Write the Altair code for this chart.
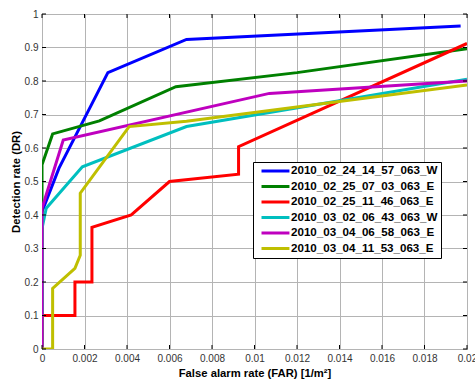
import altair as alt
import pandas as pd

series_names = [
    "2010_02_24_14_57_063_W",
    "2010_02_25_07_03_063_E",
    "2010_02_25_11_46_063_E",
    "2010_03_02_06_43_063_W",
    "2010_03_04_06_58_063_E",
    "2010_03_04_11_53_063_E",
]
series_colors = ["#0000FF", "#008000", "#FF0000", "#00BFBF", "#BF00BF", "#BFBF00"]

blue_x = [0, 0, 0.0008, 0.0031, 0.0068, 0.0197]
blue_y = [0, 0.41, 0.54, 0.825, 0.924, 0.964]
green_x = [0, 0, 0.0005, 0.0027, 0.0063, 0.012, 0.02]
green_y = [0, 0.55, 0.642, 0.681, 0.783, 0.825, 0.896]
red_x = [0, 0, 0.00155, 0.00155, 0.00235, 0.00235, 0.0042, 0.006, 0.00925, 0.00925, 0.02]
red_y = [0, 0.1, 0.1, 0.2, 0.2, 0.363, 0.40, 0.50, 0.522, 0.604, 0.912]
cyan_x = [0, 0, 0.0002, 0.0019, 0.0068, 0.02]
cyan_y = [0, 0.36, 0.42, 0.544, 0.664, 0.805]
magenta_x = [0, 0, 0.001, 0.0107, 0.02]
magenta_y = [0, 0.42, 0.624, 0.763, 0.80]
yellow_x = [0, 0.0005, 0.0005, 0.00155, 0.0018, 0.0018, 0.0041, 0.0068, 0.02]
yellow_y = [0, 0, 0.181, 0.241, 0.28, 0.465, 0.664, 0.68, 0.788]

x_ticks = [0, 0.002, 0.004, 0.006, 0.008, 0.01, 0.012, 0.014, 0.016, 0.018, 0.02]
y_ticks = [0, 0.1, 0.2, 0.3, 0.4, 0.5, 0.6, 0.7, 0.8, 0.9, 1.0]

all_x = [blue_x, green_x, red_x, cyan_x, magenta_x, yellow_x]
all_y = [blue_y, green_y, red_y, cyan_y, magenta_y, yellow_y]

rows = []
for s, (name, xs, ys) in enumerate(zip(series_names, all_x, all_y)):
    for i, (xv, yv) in enumerate(zip(xs, ys)):
        rows.append({"series": name, "s": s, "i": i, "x": xv, "y": yv})
df = pd.DataFrame(rows)
xt = pd.DataFrame({"x": x_ticks})
yt = pd.DataFrame({"y": y_ticks})

FONT = "Liberation Sans"
W, H, TL = 425, 335, 4

xscale = alt.Scale(domain=[0, 0.02], nice=False, zero=False)
yscale = alt.Scale(domain=[0, 1], nice=False)
xaxis = alt.Axis(values=x_ticks, format="~g", title="False alarm rate (FAR) [1/m²]")
yaxis = alt.Axis(values=y_ticks, format="~g", title="Detection rate (DR)")

lines = (
    alt.Chart(df)
    .mark_line(strokeWidth=3, clip=True)
    .encode(
        x=alt.X("x:Q", scale=xscale, axis=xaxis),
        y=alt.Y("y:Q", scale=yscale, axis=yaxis),
        color=alt.Color(
            "series:N",
            scale=alt.Scale(domain=series_names, range=series_colors),
            legend=alt.Legend(
                title=None,
                orient="none",
                legendX=211,
                legendY=148,
                symbolType="M-0.11,0H6.1",
                symbolSize=81,
                symbolStrokeWidth=3,
                labelOffset=23,
                labelFont=FONT,
                labelFontSize=11.6,
                labelFontWeight="bold",
                labelColor="black",
                rowPadding=3.5,
                padding=3,
                fillColor="white",
                strokeColor="black",
                labelLimit=400,
            ),
        ),
        order="i:Q",
        detail="s:N",
    )
)

tick_top = alt.Chart(xt).mark_rule(color="black", strokeWidth=1).encode(
    x=alt.X("x:Q", scale=xscale, axis=xaxis), y=alt.value(0), y2=alt.value(TL)
)
tick_bottom = alt.Chart(xt).mark_rule(color="black", strokeWidth=1).encode(
    x=alt.X("x:Q", scale=xscale, axis=xaxis), y=alt.value(H - TL), y2=alt.value(H)
)
tick_left = alt.Chart(yt).mark_rule(color="black", strokeWidth=1).encode(
    y=alt.Y("y:Q", scale=yscale, axis=yaxis), x=alt.value(0), x2=alt.value(TL)
)
tick_right = alt.Chart(yt).mark_rule(color="black", strokeWidth=1).encode(
    y=alt.Y("y:Q", scale=yscale, axis=yaxis), x=alt.value(W - TL), x2=alt.value(W)
)

chart = (
    alt.layer(lines, tick_top, tick_bottom, tick_left, tick_right)
    .properties(
        width=W,
        height=H,
        autosize=alt.AutoSizeParams(type="none"),
        padding={"left": 42, "top": 14, "right": 8, "bottom": 32},
    )
    .configure_view(stroke="black", strokeWidth=1)
    .configure_axis(
        grid=True,
        gridColor="#b4b4b4",
        gridWidth=1,
        domain=False,
        ticks=False,
        labelFlush=False,
        labelFont=FONT,
        labelFontSize=10,
        labelColor="#333333",
        titleFont=FONT,
        titleFontSize=11.25,
        titleFontWeight="bold",
        titleColor="black",
        labelPadding=4,
    )
    .configure_axisX(titlePadding=4)
    .configure_axisY(titlePadding=3)
)

chart.save("out.html", embed_options={"renderer": "svg", "actions": False})
